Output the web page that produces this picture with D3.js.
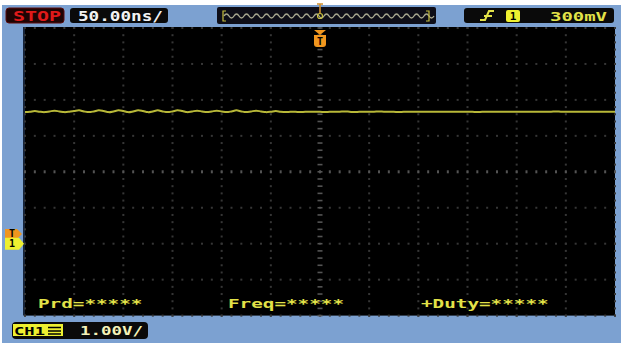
<!DOCTYPE html>
<html><head><meta charset="utf-8">
<script src="https://cdn.jsdelivr.net/npm/d3@7"></script>
<style>html,body{margin:0;padding:0;background:#fff;} svg{display:block}</style>
</head><body>
<svg id="scope" width="621" height="343"></svg>
<script>
// ---- acquisition settings ----
const timePerDivNs = 50;
const voltsPerDiv = 1.0;
const hDivs = 12;
const vDivs = 8;
const groundDivFromTop = 6;
const triggerLevelV = 0.3;
const triggerTimeNs = 0;
const sampleStartNs = -300;
const sampleStepNs = 5;

// ---- channel 1 samples (V), one every 5 ns from -300 ns ----
const ch1Volts = [
  3.66,3.67,3.69,3.67,3.66,3.68,3.70,3.68,3.66,3.67,
  3.69,3.71,3.68,3.66,3.68,3.71,3.69,3.66,3.68,3.71,
  3.69,3.66,3.68,3.71,3.69,3.66,3.68,3.71,3.68,3.66,
  3.68,3.71,3.69,3.66,3.68,3.70,3.68,3.66,3.68,3.70,
  3.68,3.66,3.68,3.71,3.68,3.66,3.68,3.70,3.68,3.66,
  3.67,3.69,3.67,3.66,3.67,3.67,3.66,3.67,3.67,3.67,
  3.67,3.66,3.67,3.67,3.67,3.68,3.67,3.66,3.67,3.67,
  3.67,3.67,3.68,3.67,3.67,3.67,3.66,3.67,3.67,3.67,
  3.67,3.67,3.67,3.67,3.67,3.67,3.67,3.67,3.67,3.67,
  3.67,3.67,3.66,3.67,3.67,3.67,3.67,3.67,3.67,3.67,
  3.67,3.67,3.67,3.67,3.67,3.67,3.67,3.67,3.68,3.67,
  3.67,3.67,3.67,3.67,3.67,3.67,3.67,3.67,3.67,3.67,
  3.67
];

// ---- on-screen labels ----
const runState = "STOP";
const timebaseLabel = "50.00ns/";
const triggerLabel = "300mV";
const triggerSource = "1";
const channelName = "CH1";
const channelScaleLabel = "1.00V/";
const measurementLabels = ["Prd=*****", "Freq=*****", "+Duty=*****"];

// ---- layout ----
const W = 621, H = 343;
const screen = {x0: 25, x1: 615, y0: 28, y1: 315.6};
const BG = "#7ca1d1";
const FONT = "'DejaVu Sans Mono', monospace";
const YEL = "#e2e248";
const ORANGE = "#f0961e";

const svg = d3.select("#scope");

const halfSpan = hDivs / 2 * timePerDivNs;
const x = d3.scaleLinear().domain([-halfSpan, halfSpan]).range([screen.x0, screen.x1]);
const vTop = groundDivFromTop * voltsPerDiv;
const vBot = -(vDivs - groundDivFromTop) * voltsPerDiv;
const y = d3.scaleLinear().domain([vBot, vTop]).range([screen.y1, screen.y0]);

// background frame
svg.append("rect").attr("width", W).attr("height", H).attr("fill", BG);
svg.append("rect").attr("width", W).attr("height", 5).attr("fill", "#ffffff");
svg.append("rect").attr("width", 2).attr("height", H).attr("fill", "#ffffff");

// display area
svg.append("rect")
  .attr("x", screen.x0).attr("y", screen.y0 - 1)
  .attr("width", screen.x1 - screen.x0).attr("height", screen.y1 - screen.y0 + 1)
  .attr("fill", "#000");
svg.append("line")
  .attr("x1", screen.x0 - 1).attr("x2", screen.x0 - 1)
  .attr("y1", screen.y0 - 1).attr("y2", screen.y1)
  .attr("stroke", "#16243a").attr("stroke-width", 2);

// ---- graticule ----
const grid = svg.append("g");
const majorT = d3.range(-halfSpan, halfSpan + 1, timePerDivNs);
const minorT = d3.range(-halfSpan, halfSpan + 1, timePerDivNs / 5);
const majorV = d3.range(vBot, vTop + 0.001, voltsPerDiv);
const minorV = d3.range(vBot, vTop + 0.001, voltsPerDiv / 5);
const centerT = 0;
const centerV = (vTop + vBot) / 2;
const DOT = "#363636", AXIS = "#545454";

majorT.forEach(t => {
  if (t === centerT) return;
  grid.selectAll(null).data(minorV).join("rect")
    .attr("x", x(t) - 1).attr("y", d => y(d) - 1)
    .attr("width", 2).attr("height", 2).attr("fill", DOT);
});
majorV.forEach(v => {
  if (Math.abs(v - centerV) < 1e-9) return;
  grid.selectAll(null).data(minorT).join("rect")
    .attr("x", d => x(d) - 1).attr("y", y(v) - 1)
    .attr("width", 2).attr("height", 2).attr("fill", DOT);
});
// center axes with tick marks
grid.selectAll(null).data(minorV).join("rect")
  .attr("x", x(centerT) - 2.5).attr("y", d => y(d) - 0.8)
  .attr("width", 5).attr("height", 1.6).attr("fill", AXIS);
grid.selectAll(null).data(minorT).join("rect")
  .attr("x", d => x(d) - 1).attr("y", y(centerV) - 1.5)
  .attr("width", 2).attr("height", 3).attr("fill", AXIS);

// ---- channel 1 trace ----
const line = d3.line()
  .x((d, i) => x(sampleStartNs + i * sampleStepNs))
  .y(d => y(d))
  .curve(d3.curveCatmullRom);
svg.append("path")
  .attr("d", line(ch1Volts))
  .attr("fill", "none").attr("stroke", "#b8b838").attr("stroke-width", 2);

// ---- measurements ----
const measX = [38, 228, 421];
svg.selectAll("text.meas").data(measurementLabels).join("text")
  .attr("class", "meas")
  .attr("x", (d, i) => measX[i]).attr("y", 308)
  .attr("textLength", d => d.length * 11.6).attr("lengthAdjust", "spacingAndGlyphs")
  .attr("font-family", FONT).attr("font-size", 13).attr("font-weight", "bold")
  .attr("fill", YEL).text(d => d);

// ---- left markers: trigger level and channel ground ----
function pointer(g, cy, h, w, color, label) {
  const x0 = 5, tip = x0 + w;
  g.append("path")
    .attr("d", `M${x0},${cy - h / 2} L${tip - 5},${cy - h / 2} L${tip},${cy} L${tip - 5},${cy + h / 2} L${x0},${cy + h / 2} Z`)
    .attr("fill", color);
  g.append("text").attr("x", x0 + 7).attr("y", cy + 3.5).attr("text-anchor", "middle")
    .attr("font-family", FONT).attr("font-size", 10).attr("font-weight", "bold")
    .attr("fill", "#000").text(label);
}
const markers = svg.append("g");
pointer(markers, y(triggerLevelV) + 1, 10, 17, ORANGE, "T");
pointer(markers, y(0), 12, 19, "#eef030", triggerSource);

// ---- trigger position marker ----
const tx = x(triggerTimeNs);
const trig = svg.append("g");
trig.append("path").attr("d", `M${tx - 6},${30} L${tx + 6},${30} L${tx},${35} Z`).attr("fill", ORANGE);
trig.append("path")
  .attr("d", `M${tx - 6},${35} L${tx + 6},${35} L${tx + 6},${44} Q${tx + 6},${47} ${tx + 3},${47} L${tx - 3},${47} Q${tx - 6},${47} ${tx - 6},${44} Z`)
  .attr("fill", ORANGE);
trig.append("text").attr("x", tx).attr("y", 45).attr("text-anchor", "middle")
  .attr("font-family", FONT).attr("font-size", 10).attr("font-weight", "bold")
  .attr("fill", "#000").text("T");

// ---- status bar ----
const bar = svg.append("g");
bar.append("rect").attr("x", 6).attr("y", 8).attr("width", 58).attr("height", 15).attr("rx", 3)
  .attr("fill", "#1e0404").attr("stroke", "#5a0c0c").attr("stroke-width", 1);
bar.append("text").attr("x", 13).attr("y", 21).attr("textLength", 48).attr("lengthAdjust", "spacingAndGlyphs")
  .attr("font-family", FONT).attr("font-size", 14).attr("font-weight", "bold")
  .attr("fill", "#e01a1a").text(runState);

bar.append("rect").attr("x", 70).attr("y", 8).attr("width", 98).attr("height", 15).attr("rx", 3)
  .attr("fill", "#0a0a0a");
bar.append("text").attr("x", 78).attr("y", 21).attr("textLength", 85).attr("lengthAdjust", "spacingAndGlyphs")
  .attr("font-family", FONT).attr("font-size", 14).attr("font-weight", "bold")
  .attr("fill", "#f2f2f2").text(timebaseLabel);

// memory overview strip
bar.append("rect").attr("x", 217).attr("y", 7).attr("width", 219).attr("height", 17).attr("rx", 2)
  .attr("fill", "#0e0e18");
let sq = "M224,16";
for (let px = 224; px < 427; px += 10) {
  sq += ` q2.5,-4 5,0 q2.5,4 5,0`;
}
bar.append("path").attr("d", sq).attr("fill", "none").attr("stroke", "#a8a890").attr("stroke-width", 1.4);
bar.append("path").attr("d", "M226,11 L223,11 L223,21 L226,21").attr("fill", "none").attr("stroke", "#c8c040").attr("stroke-width", 1.2);
bar.append("path").attr("d", "M426,11 L429,11 L429,21 L426,21").attr("fill", "none").attr("stroke", "#c8c040").attr("stroke-width", 1.2);
bar.append("path").attr("d", `M${tx - 3},4 L${tx + 3},4 M${tx},4 L${tx},13`).attr("stroke", "#d09030").attr("stroke-width", 1.6);
bar.append("circle").attr("cx", tx).attr("cy", 16).attr("r", 2.5).attr("fill", "none").attr("stroke", "#c8c040").attr("stroke-width", 1.2);

// trigger settings box
bar.append("rect").attr("x", 464).attr("y", 8).attr("width", 150).attr("height", 15).attr("rx", 3)
  .attr("fill", "#0a0a0a");
bar.append("path").attr("d", "M480,20 L485,20 L489,11 L494,11 M484,16 L492,16")
  .attr("fill", "none").attr("stroke", YEL).attr("stroke-width", 2);
bar.append("rect").attr("x", 506).attr("y", 10).attr("width", 14).attr("height", 12).attr("rx", 2).attr("fill", "#eef030");
bar.append("text").attr("x", 513).attr("y", 20).attr("text-anchor", "middle")
  .attr("font-family", FONT).attr("font-size", 11).attr("font-weight", "bold")
  .attr("fill", "#000").text(triggerSource);
bar.append("text").attr("x", 550).attr("y", 20.5).attr("textLength", 57).attr("lengthAdjust", "spacingAndGlyphs")
  .attr("font-family", FONT).attr("font-size", 12).attr("font-weight", "bold")
  .attr("fill", YEL).text(triggerLabel);

// ---- channel scale box ----
const ch = svg.append("g");
ch.append("rect").attr("x", 12).attr("y", 322).attr("width", 136).attr("height", 17).attr("rx", 4)
  .attr("fill", "#0a0a0a");
ch.append("rect").attr("x", 13).attr("y", 324).attr("width", 50).attr("height", 12).attr("fill", "#eef030");
ch.append("text").attr("x", 14).attr("y", 334.5).attr("textLength", 31).attr("lengthAdjust", "spacingAndGlyphs")
  .attr("font-family", FONT).attr("font-size", 11).attr("font-weight", "bold")
  .attr("fill", "#000").text(channelName);
ch.append("path").attr("d", "M48,327.5 L61,327.5 M48,331 L61,331 M48,334 L61,334")
  .attr("stroke", "#000").attr("stroke-width", 1.3);
ch.append("text").attr("x", 80).attr("y", 335).attr("textLength", 63).attr("lengthAdjust", "spacingAndGlyphs")
  .attr("font-family", FONT).attr("font-size", 13).attr("font-weight", "bold")
  .attr("fill", "#f4f2b8").text(channelScaleLabel);
</script>
</body></html>
